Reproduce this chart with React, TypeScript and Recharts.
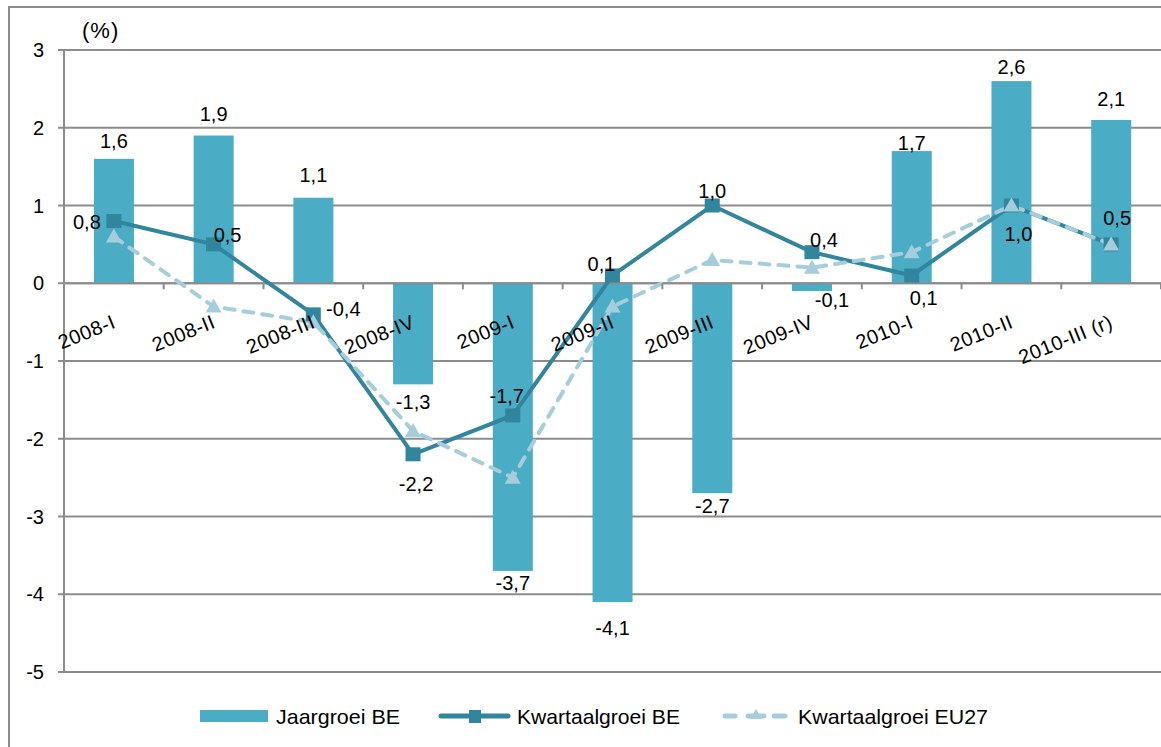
import { ComposedChart, Bar, Line, XAxis, YAxis, CartesianGrid, ReferenceLine } from 'recharts';

const categories = ['2008-I', '2008-II', '2008-III', '2008-IV', '2009-I', '2009-II', '2009-III', '2009-IV', '2010-I', '2010-II', '2010-III (r)'];
const jaargroeiBE = [1.6, 1.9, 1.1, -1.3, -3.7, -4.1, -2.7, -0.1, 1.7, 2.6, 2.1];
const kwartaalgroeiBE = [0.8, 0.5, -0.4, -2.2, -1.7, 0.1, 1.0, 0.4, 0.1, 1.0, 0.5];
const kwartaalgroeiEU27 = [0.6, -0.3, -0.5, -1.9, -2.5, -0.3, 0.3, 0.2, 0.4, 1.0, 0.5];
const yTicks = [-5, -4, -3, -2, -1, 0, 1, 2, 3];

// label offsets (dx, dy of text centre), as Excel placed them
const kwartaalLabelOffset = [
  [-27, 1], [14, -10], [30, -6], [3, 29], [-6, -20], [-11, -12],
  [0, -15], [12, -12], [12, 22], [7, 28], [6, -27],
];
// from the end of each bar
const barLabelOffset = [
  [0, -18], [0, -22], [0, -23], [0, 17], [0, 12], [0, 26],
  [0, 13], [20, 9], [0, -8], [0, -14], [0, -21],
];

const W = 1161;
const H = 747;
const MARGIN = { top: 50, right: 0, left: 0, bottom: 74 };
const X_AXIS_H = 1;
const PLOT_H = H - MARGIN.top - MARGIN.bottom - X_AXIS_H;
const Y_MIN = -5;
const Y_MAX = 3;
const STEP = (W - 64) / categories.length;

const BAR = '#4bacc6';
const LINE_BE = '#31859c';
const LINE_EU = '#a5cddb';
const GRID = '#8c8c8c';
const FONT = '"Liberation Sans", Arial, sans-serif';

const data = categories.map((cat, i) => ({
  cat,
  jaar: jaargroeiBE[i],
  kwBE: kwartaalgroeiBE[i],
  kwEU: kwartaalgroeiEU27[i],
}));

const fmt = (v: number) => v.toFixed(1).replace('.', ',');

function CategoryTick(props: any) {
  const { x, y, payload, index } = props;
  const zero = y - PLOT_H * (0 - Y_MIN) / (Y_MAX - Y_MIN);
  const ax = x + 3;
  const ay = zero + 44;
  const left = x - STEP / 2;
  return (
    <g>
      <line x1={left} x2={left} y1={zero} y2={zero + 6} stroke={GRID} strokeWidth={2} />
      {index === categories.length - 1 && (
        <line x1={x + STEP / 2} x2={x + STEP / 2} y1={zero} y2={zero + 6} stroke={GRID} strokeWidth={2} />
      )}
      <text
        x={ax}
        y={ay}
        textAnchor="end"
        fontSize={20}
        letterSpacing={0.5}
        fontFamily={FONT}
        fill="#000"
        transform={`rotate(-22, ${ax}, ${ay})`}
      >
        {payload.value}
      </text>
    </g>
  );
}

function BarWithLabel(props: any) {
  const { x, y, width, height, payload, index } = props;
  const top = Math.min(y, y + height);
  const bottom = Math.max(y, y + height);
  const v = payload.jaar;
  const [dx, dy] = barLabelOffset[index];
  return (
    <g>
      <rect x={x} y={top} width={width} height={bottom - top} fill={BAR} />
      <text
        x={x + width / 2 + dx}
        y={(v >= 0 ? top : bottom) + dy}
        dy="0.36em"
        textAnchor="middle"
        fontSize={20}
        fontFamily={FONT}
        fill="#000"
      >
        {fmt(v)}
      </text>
    </g>
  );
}

function SquareDot(props: any) {
  const { cx, cy } = props;
  if (cx == null || cy == null) return null;
  return <rect x={cx - 7.5} y={cy - 7} width={15} height={14} fill={LINE_BE} />;
}

function TriangleDot(props: any) {
  const { cx, cy } = props;
  if (cx == null || cy == null) return null;
  return <path d={`M${cx},${cy - 8} L${cx + 8},${cy + 6} L${cx - 8},${cy + 6} Z`} fill={LINE_EU} />;
}

function KwartaalLabel(props: any) {
  const { cx, cy, index, value } = props;
  if (cx == null || cy == null) return null;
  const [dx, dy] = kwartaalLabelOffset[index];
  return (
    <text x={cx + dx} y={cy + dy} dy="0.36em" textAnchor="middle" fontSize={20} fontFamily={FONT} fill="#000">
      {fmt(value)}
    </text>
  );
}

function LegendBox() {
  const t = { fontFamily: FONT, fontSize: 21, fill: '#000', lengthAdjust: 'spacingAndGlyphs' as const };
  return (
    <svg width={W} height={40} style={{ position: 'absolute', left: 0, top: 697 }}>
      <rect x={200} y={13} width={68} height={12} fill={BAR} />
      <text x={276} y={27} textLength={124} {...t}>Jaargroei BE</text>
      <line x1={441} x2={508} y1={19} y2={19} stroke={LINE_BE} strokeWidth={5} strokeLinecap="round" />
      <rect x={469} y={13} width={12} height={13} fill={LINE_BE} />
      <text x={517} y={27} textLength={163} {...t}>Kwartaalgroei BE</text>
      <line x1={725} x2={735} y1={19} y2={19} stroke={LINE_EU} strokeWidth={5} strokeLinecap="round" />
      <line x1={748} x2={764} y1={19} y2={19} stroke={LINE_EU} strokeWidth={5} strokeLinecap="round" />
      <path d="M756,12 L762,22 L750,22 Z" fill={LINE_EU} />
      <line x1={774} x2={785} y1={19} y2={19} stroke={LINE_EU} strokeWidth={5} strokeLinecap="round" />
      <text x={798} y={27} textLength={190} {...t}>Kwartaalgroei EU27</text>
    </svg>
  );
}

export default function App() {
  return (
    <div style={{ position: 'relative', width: W, height: H, overflow: 'hidden', background: '#fff' }}>
      <style>{'body{margin:0}'}</style>
      <div style={{ position: 'absolute', left: 8, top: 6, width: 1300, height: 900, border: `2px solid ${GRID}` }} />
      <div style={{ position: 'absolute', left: 82, top: 18, fontFamily: FONT, fontSize: 22, letterSpacing: 1 }}>(%)</div>
      <div style={{ position: 'absolute', left: 0, top: 0 }}>
        <ComposedChart width={W} height={H} data={data} margin={MARGIN} barCategoryGap="30%">
          <CartesianGrid vertical={false} stroke={GRID} strokeWidth={2} />
          <XAxis
            dataKey="cat"
            height={X_AXIS_H}
            axisLine={false}
            tickLine={false}
            tickSize={0}
            tickMargin={0}
            interval={0}
            tick={<CategoryTick />}
          />
          <YAxis
            width={64}
            domain={[Y_MIN, Y_MAX]}
            ticks={yTicks}
            allowDataOverflow
            stroke={GRID}
            strokeWidth={2}
            tickSize={6}
            tickMargin={14}
            tick={{ fill: '#000', fontSize: 20, fontFamily: FONT }}
          />
          <ReferenceLine y={0} stroke={GRID} strokeWidth={2} />
          <Bar dataKey="jaar" fill={BAR} shape={<BarWithLabel />} isAnimationActive={false} />
          <Line dataKey="kwBE" stroke={LINE_BE} strokeWidth={4} dot={<SquareDot />} activeDot={false} isAnimationActive={false} />
          <Line
            dataKey="kwEU"
            stroke={LINE_EU}
            strokeWidth={4}
            strokeDasharray="10 9"
            strokeLinecap="round"
            dot={<TriangleDot />}
            activeDot={false}
            isAnimationActive={false}
          />
          <Line dataKey="kwBE" stroke="none" dot={<KwartaalLabel />} activeDot={false} isAnimationActive={false} />
        </ComposedChart>
      </div>
      <LegendBox />
    </div>
  );
}
